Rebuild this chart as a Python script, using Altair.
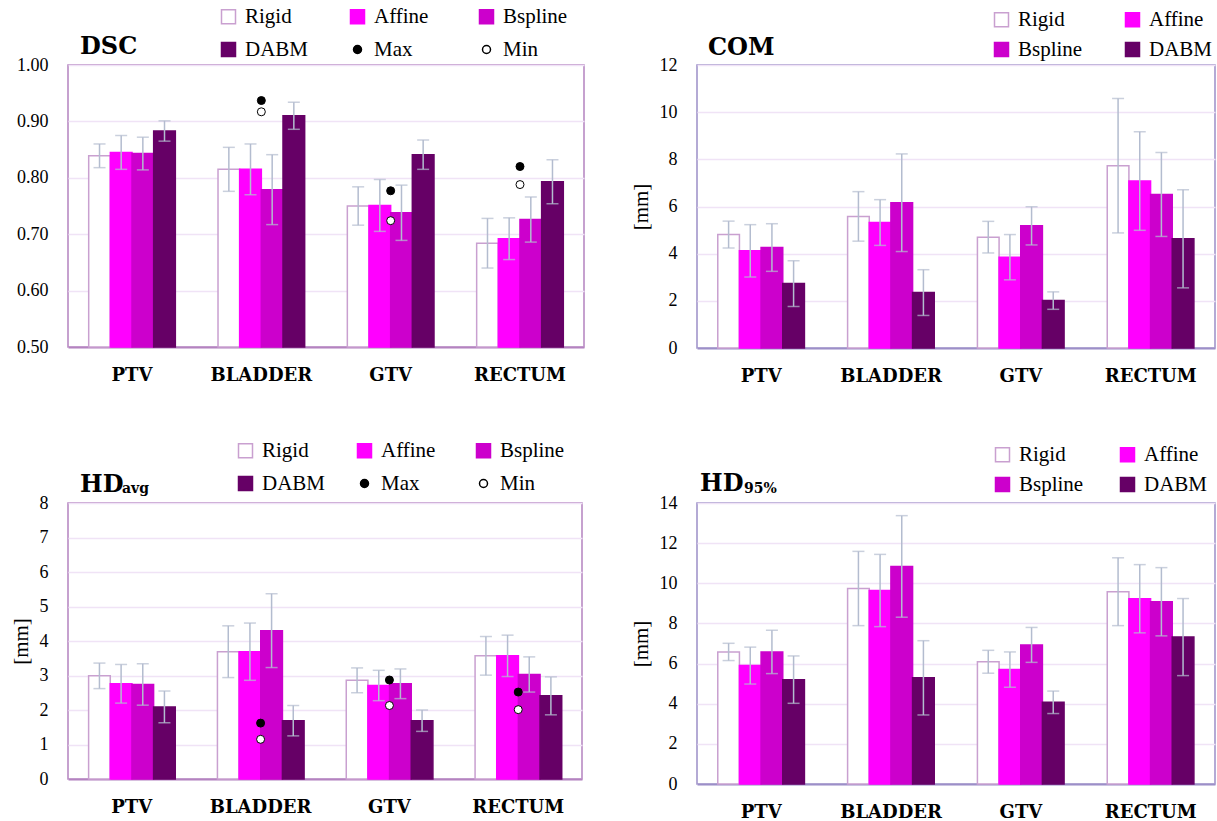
import altair as alt
import pandas as pd

# Categories and series
structures = ["PTV", "BLADDER", "GTV", "RECTUM"]
methods = ["Rigid", "Affine", "Bspline", "DABM"]
markers = ["Max", "Min"]

# Rows follow `methods`, columns follow `structures`
dsc_mean = [
    [0.839, 0.815, 0.750, 0.684],
    [0.845, 0.815, 0.751, 0.692],
    [0.843, 0.779, 0.738, 0.726],
    [0.883, 0.910, 0.841, 0.793],
]
dsc_sd = [
    [0.021, 0.039, 0.034, 0.044],
    [0.030, 0.045, 0.046, 0.037],
    [0.029, 0.062, 0.049, 0.040],
    [0.018, 0.024, 0.026, 0.039],
]
dsc_max = [None, 0.937, 0.777, 0.820]
dsc_min = [None, 0.917, 0.724, 0.788]
dsc_ticks = [0.5, 0.6, 0.7, 0.8, 0.9, 1.0]

com_mean = [
    [4.81, 5.58, 4.70, 7.73],
    [4.12, 5.32, 3.85, 7.08],
    [4.26, 6.16, 5.18, 6.51],
    [2.73, 2.35, 2.01, 4.63],
]
com_sd = [
    [0.57, 1.05, 0.67, 2.85],
    [1.11, 0.97, 0.96, 2.09],
    [1.01, 2.07, 0.81, 1.78],
    [0.97, 0.97, 0.37, 2.08],
]
com_ticks = [0, 2, 4, 6, 8, 10, 12]

hdavg_mean = [
    [2.99, 3.69, 2.86, 3.57],
    [2.76, 3.69, 2.71, 3.57],
    [2.74, 4.30, 2.76, 3.03],
    [2.09, 1.69, 1.69, 2.41],
]
hdavg_sd = [
    [0.37, 0.75, 0.36, 0.56],
    [0.56, 0.83, 0.44, 0.60],
    [0.60, 1.07, 0.43, 0.51],
    [0.46, 0.44, 0.31, 0.55],
]
hdavg_max = [None, 1.62, 2.87, 2.52]
hdavg_min = [None, 1.15, 2.13, 2.01]
hdavg_ticks = [0, 1, 2, 3, 4, 5, 6, 7, 8]

hd95_mean = [
    [6.58, 9.74, 6.09, 9.58],
    [5.90, 9.64, 5.70, 9.23],
    [6.58, 10.84, 6.93, 9.08],
    [5.20, 5.29, 4.07, 7.32],
]
hd95_sd = [
    [0.43, 1.85, 0.57, 1.69],
    [0.92, 1.80, 0.88, 1.70],
    [1.08, 2.53, 0.87, 1.70],
    [1.18, 1.85, 0.56, 1.92],
]
hd95_ticks = [0, 2, 4, 6, 8, 10, 12, 14]

# Styling
fill_colors = ["#ffffff", "#ff00ff", "#cc00cc", "#660066", "#000000", "#ffffff"]
stroke_colors = ["#c9a0d0", "#ff00ff", "#cc00cc", "#660066", "#000000", "#000000"]
shape_list = ["square", "square", "square", "square", "circle", "circle"]
size_list = [196, 196, 196, 196, 64, 64]
ERR = "#b3bccf"
GRID = "#f0e3f6"
PINK_FRAME = "#b483c0"
BLUE_FRAME = "#9c8fc8"
SERIF = "DejaVu Serif"
TEXT_FONT = "Liberation Serif"


def bar_frame(mean, sd):
    rows = []
    for mi, m in enumerate(methods):
        for si, s in enumerate(structures):
            v, e = mean[mi][si], sd[mi][si]
            rows.append({"structure": s, "series": m, "mean": v, "lo": v - e, "hi": v + e})
    return pd.DataFrame(rows)


def extreme_frame(maxs, mins):
    rows = []
    for s, hi, lo in zip(structures, maxs, mins):
        if hi is not None:
            rows.append({"structure": s, "series": "Max", "value": hi})
        if lo is not None:
            rows.append({"structure": s, "series": "Min", "value": lo})
    return pd.DataFrame(rows)


def heading(text, x, y, size):
    return alt.Chart(pd.DataFrame({"t": [text]})).mark_text(
        align="left", baseline="alphabetic", font=SERIF, fontWeight="bold",
        fontSize=size, color="black",
    ).encode(text="t:N", x=alt.value(x), y=alt.value(y))


def panel(mean, sd, ticks, fmt, width, height, frame_color, ytitle, legend_opts,
          titles, extremes=None):
    names = methods + (markers if extremes is not None else [])
    n = len(names)
    fill_scale = alt.Scale(domain=names, range=fill_colors[:n])
    stroke_scale = alt.Scale(domain=names, range=stroke_colors[:n])
    legend = alt.Legend(
        orient="none", title=None, padding=0, gridAlign="all", direction="horizontal",
        labelFont=TEXT_FONT, labelFontSize=21, labelColor="black", labelOffset=6,
        symbolStrokeWidth=1.5, **legend_opts,
    )

    x_axis = alt.Axis(
        title=None, labelAngle=0, ticks=False, domain=True, domainColor=frame_color,
        domainWidth=2, grid=False, labelFont=SERIF, labelFontWeight="bold",
        labelFontSize=18, labelColor="black", labelPadding=19,
    )
    y_axis_opts = dict(
        values=ticks, format=fmt, domain=False, ticks=False, grid=True,
        gridColor=GRID, gridWidth=1.5, labelFont=TEXT_FONT, labelFontSize=18,
        labelColor="black", labelPadding=20, titleFont=TEXT_FONT, titleFontSize=21,
        titleFontWeight="normal", titleColor="black", titlePadding=8,
    )
    if ytitle:
        y_axis = alt.Axis(title=ytitle, **y_axis_opts)
    else:
        y_axis = alt.Axis(title=None, **y_axis_opts)
    yscale = alt.Scale(domain=[ticks[0], ticks[-1]], nice=False, zero=False)

    x = alt.X("structure:N", sort=structures, axis=x_axis,
              scale=alt.Scale(paddingInner=0.33, paddingOuter=0.16))
    xo = alt.XOffset("series:N", sort=methods,
                     scale=alt.Scale(domain=methods, paddingInner=0, paddingOuter=0))

    base = alt.Chart(bar_frame(mean, sd))
    # bars rise from the bottom of the value axis
    bars = base.mark_bar(strokeWidth=1.5).encode(
        x=x, xOffset=xo,
        y=alt.Y("mean:Q", scale=yscale, axis=y_axis),
        y2=alt.Y2(datum=ticks[0]),
        fill=alt.Fill("series:N", scale=fill_scale, legend=legend),
        stroke=alt.Stroke("series:N", scale=stroke_scale, legend=legend),
    )
    whisk = base.mark_rule(color=ERR, strokeWidth=1.5).encode(
        x=x, xOffset=xo,
        y=alt.Y("lo:Q", scale=yscale, axis=y_axis), y2="hi:Q",
    )
    cap_hi = base.mark_tick(color=ERR, size=12, thickness=1.5).encode(
        x=x, xOffset=xo, y=alt.Y("hi:Q", scale=yscale, axis=y_axis),
    )
    cap_lo = base.mark_tick(color=ERR, size=12, thickness=1.5).encode(
        x=x, xOffset=xo, y=alt.Y("lo:Q", scale=yscale, axis=y_axis),
    )
    layers = [bars, whisk, cap_hi, cap_lo]

    if extremes is not None:
        pts = alt.Chart(extreme_frame(*extremes)).mark_point(filled=True, strokeWidth=1, opacity=1).encode(
            x=x,
            y=alt.Y("value:Q", scale=yscale, axis=y_axis),
            fill=alt.Fill("series:N", scale=fill_scale, legend=legend),
            stroke=alt.Stroke("series:N", scale=stroke_scale, legend=legend),
            shape=alt.Shape("series:N", scale=alt.Scale(domain=names, range=shape_list[:n]), legend=legend),
            size=alt.Size("series:N", scale=alt.Scale(type="ordinal", domain=names, range=size_list[:n]),
                          legend=legend),
        )
        layers.append(pts)

    for text, tx, ty, size in titles:
        layers.append(heading(text, tx, ty, size))

    return alt.layer(*layers).properties(
        width=width, height=height,
        view=alt.ViewBackground(stroke=frame_color, strokeWidth=1.5, fill="white"),
    )


p_dsc = panel(
    dsc_mean, dsc_sd, dsc_ticks, ".2f", 516, 282, PINK_FRAME, None,
    dict(legendX=150, legendY=-59, columns=3, columnPadding=37, rowPadding=11),
    [("DSC", 12, -11, 24)], extremes=(dsc_max, dsc_min),
)
p_com = panel(
    com_mean, com_sd, com_ticks, "d", 518, 283, BLUE_FRAME, "[mm]",
    dict(legendX=294, legendY=-56, columns=2, columnPadding=39, rowPadding=8,
         symbolType="square", symbolSize=196),
    [("COM", 11, -10, 24)],
)
p_hdavg = panel(
    hdavg_mean, hdavg_sd, hdavg_ticks, "d", 514, 276, PINK_FRAME, "[mm]",
    dict(legendX=167, legendY=-63, columns=3, columnPadding=27, rowPadding=11),
    [("HD", 12, -11, 24), ("avg", 54, -10, 14)], extremes=(hdavg_max, hdavg_min),
)
p_hd95 = panel(
    hd95_mean, hd95_sd, hd95_ticks, "d", 518, 281, BLUE_FRAME, "[mm]",
    dict(legendX=295, legendY=-59, columns=2, columnPadding=33, rowPadding=8,
         symbolType="square", symbolSize=196),
    [("HD", 3, -12, 24), ("95%", 47, -10, 14)],
)

chart = alt.concat(
    p_dsc, p_com, p_hdavg, p_hd95,
    columns=2, spacing={"row": 155, "column": 113}, bounds="flush", align="each",
).resolve_scale(
    fill="independent", stroke="independent", shape="independent", size="independent",
).resolve_legend(
    fill="independent", stroke="independent", shape="independent", size="independent",
).properties(
    padding={"left": 9, "top": 5, "right": 0, "bottom": 0},
    background="white",
)

chart.save("out.html", embed_options={"renderer": "svg", "actions": False})
